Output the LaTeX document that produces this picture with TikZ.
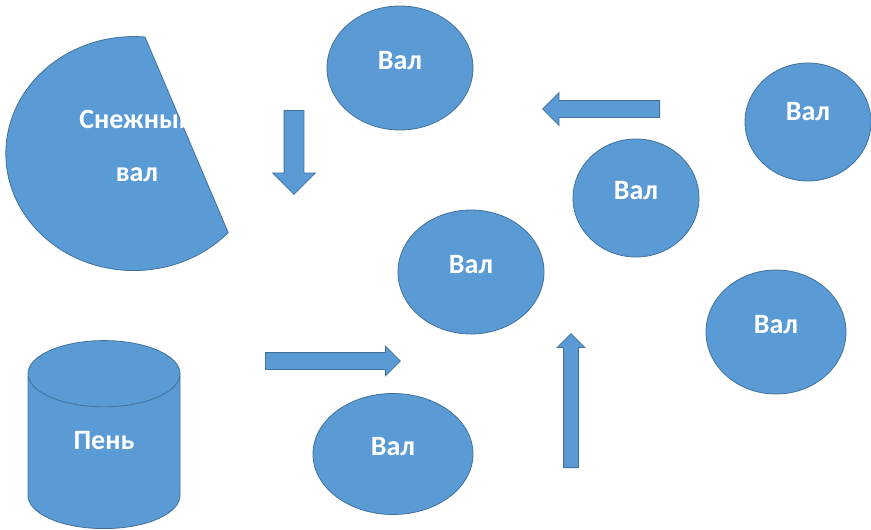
\documentclass[tikz,border=0pt]{standalone}
\usepackage{fontspec}
\setmainfont{Carlito}
\usepackage{tikz}
\usetikzlibrary{shapes.geometric,shapes.arrows}
\definecolor{ppblue}{RGB}{91,155,213}
\definecolor{ppedge}{RGB}{65,113,156}

\begin{document}
\begin{tikzpicture}[x=1pt, y=1pt]
        \useasboundingbox (0,0) rectangle (871,-530);
        \tikzset{ShapeStyle/.style={fill=ppblue, draw=ppedge, line width=0.8pt}}
        \tikzset{TextStyle/.style={text=white, font=\fontsize{28}{53}\selectfont\bfseries}}
        \tikzset{ValStyle/.style={ShapeStyle, TextStyle, ellipse, inner sep=0pt,
            text depth=16pt, minimum width=146, minimum height=124}}
        \tikzset{ArrowStyle/.style={ShapeStyle, single arrow, inner xsep=0pt,
            anchor=tail}}

        \draw[ShapeStyle] (145,-37)
          arc[start angle=85, end angle=317.5, x radius=128, y radius=117] -- cycle;
        \node[TextStyle, align=center] (snow) at (137,-146) {Снежный\\вал};

        \node[ShapeStyle, TextStyle, cylinder, shape border rotate=90, aspect=0.98,
          minimum width=152, minimum height=188, text depth=32pt,
          anchor=south] (stump) at (104,-529) {Пень};

        \node[ValStyle] (val1) at (400,-68) {Вал};
        \node[ValStyle] (val4) at (471,-272) {Вал};
        \begin{scope}[ValStyle/.append style={minimum width=126, minimum height=118}]
          \node[ValStyle, text depth=22pt] (val2) at (808,-122) {Вал};
          \node[ValStyle] (val3) at (636,-198) {Вал};
        \end{scope}
        \node[ValStyle, minimum width=140] (val5) at (776,-332) {Вал};
        \node[ValStyle, minimum width=160, minimum height=121] (val6) at (393,-454) {Вал};

        \node[ArrowStyle, rotate=-90, minimum height=84, inner ysep=9.5,
          single arrow head extend=11.5] (down) at (294,-110) {};
        \node[ArrowStyle, rotate=180, minimum height=117, inner ysep=8,
          single arrow head extend=8] (left) at (660,-109) {};
        \node[ArrowStyle, minimum height=135, inner ysep=8,
          single arrow head extend=6.5] (right) at (265,-361) {};
        \node[ArrowStyle, rotate=90, minimum height=134, inner ysep=7,
          single arrow head extend=6.5] (up) at (571,-468) {};
\end{tikzpicture}
\end{document}
